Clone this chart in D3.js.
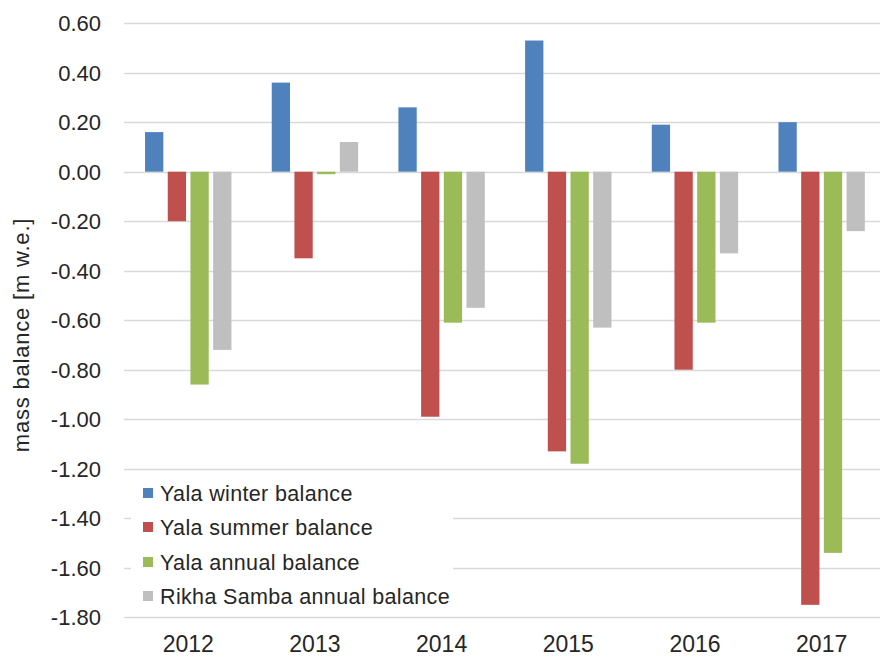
<!DOCTYPE html>
<html><head><meta charset="utf-8">
<script src="https://cdn.jsdelivr.net/npm/d3@7"></script>
<style>body{margin:0;background:#fff}svg{display:block}text{font-family:"Liberation Sans",Arial,sans-serif}</style>
</head><body>
<svg id="c" width="880" height="657"></svg>
<script>
const years = ["2012","2013","2014","2015","2016","2017"];
const seriesNames = ["Yala winter balance","Yala summer balance","Yala annual balance","Rikha Samba annual balance"];
const yalaWinter = [0.16, 0.36, 0.26, 0.53, 0.19, 0.20];
const yalaSummer = [-0.20, -0.35, -0.99, -1.13, -0.80, -1.75];
const yalaAnnual = [-0.86, -0.01, -0.61, -1.18, -0.61, -1.54];
const rikhaAnnual = [-0.72, 0.12, -0.55, -0.63, -0.33, -0.24];
const yTicks = [0.6,0.4,0.2,0,-0.2,-0.4,-0.6,-0.8,-1.0,-1.2,-1.4,-1.6,-1.8];
const yTickLabels = ["0.60","0.40","0.20","0.00","-0.20","-0.40","-0.60","-0.80","-1.00","-1.20","-1.40","-1.60","-1.80"];
const colors = ["#4f81bd","#c0504d","#9bbb59","#bfbfbf"];
const allSeries = [yalaWinter, yalaSummer, yalaAnnual, rikhaAnnual];

const svg = d3.select("#c");
const x = d3.scaleBand().domain(years).range([124.9, 885]).paddingInner(0).paddingOuter(0);
const xs = d3.scaleBand().domain(d3.range(4)).range([0, x.bandwidth()]).paddingInner(0.194).paddingOuter(0.888);
const y = d3.scaleLinear().domain([-1.8, 0.6]).range([617.2, 23.2]);

// gridlines
svg.append("g").selectAll("line").data(yTicks).join("line")
  .attr("x1", 124).attr("x2", 880)
  .attr("y1", d => Math.round(y(d)) + 0.5).attr("y2", d => Math.round(y(d)) + 0.5)
  .attr("stroke", "#d9d9d9").attr("stroke-width", 1.3);

// y labels
svg.append("g").selectAll("text").data(yTicks).join("text")
  .attr("x", 101).attr("y", d => y(d)).attr("dy", "0.36em")
  .attr("text-anchor", "end").attr("font-size", 22).attr("fill", "#262626")
  .text((d, i) => yTickLabels[i]);

// bars
const g = svg.append("g");
allSeries.forEach((vals, s) => {
  g.selectAll(null).data(vals).join("rect")
    .attr("x", (d, i) => x(years[i]) + xs(s))
    .attr("width", xs.bandwidth())
    .attr("y", d => y(Math.max(0, d)))
    .attr("height", d => Math.abs(y(d) - y(0)))
    .attr("fill", colors[s]);
});

// x labels
svg.append("g").selectAll("text").data(years).join("text")
  .attr("x", d => x(d) + x.bandwidth() / 2).attr("y", 651.5)
  .attr("text-anchor", "middle").attr("font-size", 23).attr("fill", "#262626")
  .text(d => d);

// y title
svg.append("text")
  .attr("transform", "translate(29,335) rotate(-90)")
  .attr("text-anchor", "middle").attr("font-size", 22).attr("letter-spacing", 0.8).attr("fill", "#262626")
  .text("mass balance [m w.e.]");

// legend
const lg = svg.append("g");
lg.append("rect").attr("x", 131).attr("y", 474).attr("width", 322).attr("height", 138).attr("fill", "#fff");
const rowY = [493, 527, 562, 596];
seriesNames.forEach((n, i) => {
  lg.append("rect").attr("x", 143).attr("y", rowY[i] - 5).attr("width", 10).attr("height", 10).attr("fill", colors[i]);
  lg.append("text").attr("x", 160).attr("y", rowY[i]).attr("dy", "0.36em")
    .attr("font-size", 21.5).attr("letter-spacing", 0.35).attr("fill", "#262626").text(n);
});
</script>
</body></html>
